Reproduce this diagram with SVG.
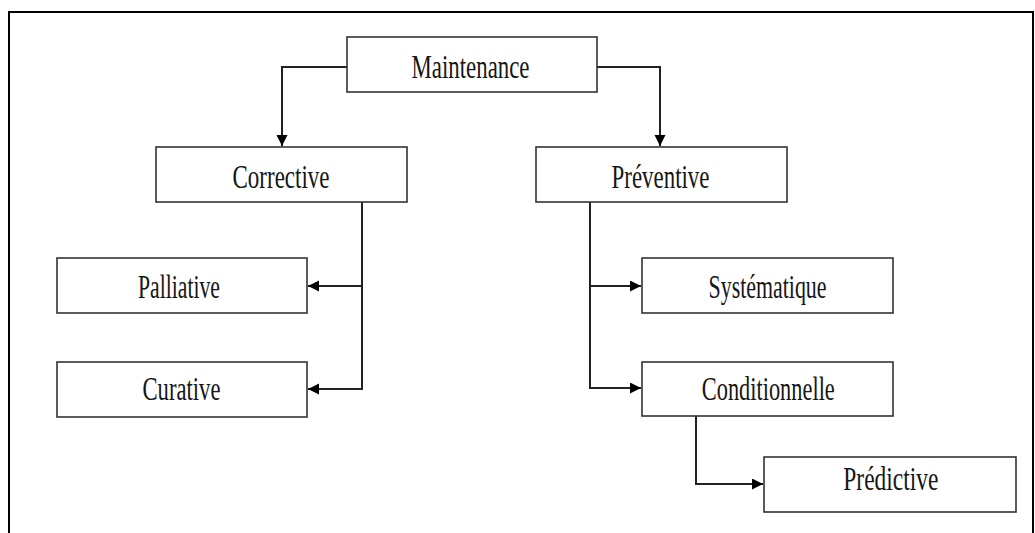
<svg xmlns="http://www.w3.org/2000/svg" width="1035" height="533" viewBox="0 0 1035 533">
<style>
.box{fill:#fff;stroke:#333;stroke-width:1.6}
.lbl{font-family:"Liberation Serif","Times New Roman",serif;font-size:33px;fill:#161616;text-anchor:middle}
.con{fill:none;stroke:#222;stroke-width:2}
.frame{fill:none;stroke:#000;stroke-width:2}
</style>
<defs>
<marker id="arr" markerUnits="userSpaceOnUse" markerWidth="12" markerHeight="12" refX="11" refY="5.5" orient="auto">
<path d="M0,0 L11,5.5 L0,11 Z" fill="#000"/>
</marker>
</defs>
<rect width="1035" height="533" fill="#fff"/>
<path class="frame" d="M9,533 V12 H1033 V533"/>
<g id="connectors">
<path class="con" d="M347,67 H282 V146" marker-end="url(#arr)"/>
<path class="con" d="M597,67 H660 V146" marker-end="url(#arr)"/>
<path class="con" d="M362,202 V389 H308" marker-end="url(#arr)"/>
<path class="con" d="M362,286 H308" marker-end="url(#arr)"/>
<path class="con" d="M590,202 V388 H641" marker-end="url(#arr)"/>
<path class="con" d="M590,286 H641" marker-end="url(#arr)"/>
<path class="con" d="M696,416 V484 H763" marker-end="url(#arr)"/>
</g>
<g id="maintenance">
<rect class="box" x="347" y="37" width="250" height="55"/>
<text class="lbl" x="470.5" y="78" textLength="118" lengthAdjust="spacingAndGlyphs">Maintenance</text>
</g>
<g id="corrective">
<rect class="box" x="156" y="147" width="251" height="55"/>
<text class="lbl" x="281" y="188" textLength="97" lengthAdjust="spacingAndGlyphs">Corrective</text>
</g>
<g id="preventive">
<rect class="box" x="536" y="147" width="251" height="55"/>
<text class="lbl" x="660.5" y="188" textLength="98" lengthAdjust="spacingAndGlyphs">Préventive</text>
</g>
<g id="palliative">
<rect class="box" x="57" y="258" width="250" height="55"/>
<text class="lbl" x="179" y="298" textLength="82" lengthAdjust="spacingAndGlyphs">Palliative</text>
</g>
<g id="curative">
<rect class="box" x="57" y="362" width="250" height="55"/>
<text class="lbl" x="181.5" y="400" textLength="78" lengthAdjust="spacingAndGlyphs">Curative</text>
</g>
<g id="systematique">
<rect class="box" x="642" y="258" width="251" height="55"/>
<text class="lbl" x="767.5" y="298" textLength="118" lengthAdjust="spacingAndGlyphs">Systématique</text>
</g>
<g id="conditionnelle">
<rect class="box" x="642" y="362" width="251" height="54"/>
<text class="lbl" x="768.3" y="400" textLength="133" lengthAdjust="spacingAndGlyphs">Conditionnelle</text>
</g>
<g id="predictive">
<rect class="box" x="764" y="457" width="252" height="55"/>
<text class="lbl" x="890.8" y="490" textLength="95" lengthAdjust="spacingAndGlyphs">Prédictive</text>
</g>
</svg>
